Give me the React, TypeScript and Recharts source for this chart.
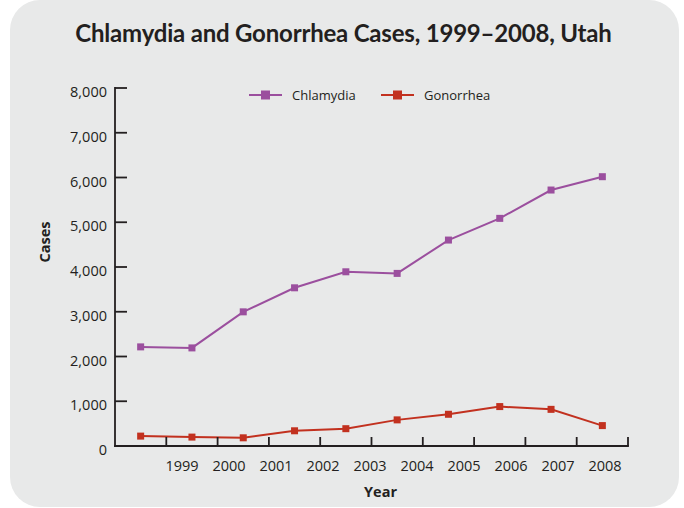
import React from "react";
import {
  LineChart,
  Line,
  XAxis,
  YAxis,
  Legend,
  Label,
} from "recharts";

const years = [1999, 2000, 2001, 2002, 2003, 2004, 2005, 2006, 2007, 2008];
const chlamydia = [2215, 2192, 2998, 3535, 3893, 3857, 4602, 5087, 5720, 6018];
const gonorrhea = [221, 199, 183, 340, 387, 584, 709, 881, 819, 456];
const yTicks = [0, 1000, 2000, 3000, 4000, 5000, 6000, 7000, 8000];
const boundaryTicks = [1999.5, 2000.5, 2001.5, 2002.5, 2003.5, 2004.5, 2005.5, 2006.5, 2007.5, 2008.5];

const data = years.map((year, i) => ({
  year,
  Chlamydia: chlamydia[i],
  Gonorrhea: gonorrhea[i],
}));

const FONT = "'Open Sans', 'Noto Sans', sans-serif";
const INK = "#231f20";
const PURPLE = "#9b4f9e";
const RED = "#c2311f";

const YTick = (props: any) => {
  const { x, y, payload } = props;
  return (
    <g>
      {payload.value > 0 && (
        <line x1={x + 8} x2={x + 20} y1={y} y2={y} stroke={INK} strokeWidth={1.8} />
      )}
      <text
        x={x}
        y={y + 4}
        dy="0.35em"
        textAnchor="end"
        fill={INK}
        fontSize={14.5}
        fontFamily={FONT}
      >
        {payload.value.toLocaleString("en-US")}
      </text>
    </g>
  );
};

const squareDot = (color: string, size: number) => (p: any) => (
  <rect
    key={`dot-${p.index}`}
    x={p.cx - size / 2}
    y={p.cy - size / 2}
    width={size}
    height={size}
    fill={color}
  />
);

const renderLegend = (props: any) => {
  const { payload } = props;
  return (
    <div style={{ display: "flex", alignItems: "center", fontFamily: FONT, fontSize: 13, color: INK }}>
      {payload.map((entry: any, i: number) => (
        <div
          key={entry.value}
          style={{ display: "flex", alignItems: "center", width: i === 0 ? 132 : "auto" }}
        >
          <svg width={33} height={18}>
            <line x1={0} x2={33} y1={9} y2={9} stroke={entry.color} strokeWidth={2} />
            <rect x={12} y={4.5} width={9} height={9} fill={entry.color} />
          </svg>
          <span style={{ marginLeft: 10, whiteSpace: "nowrap" }}>{entry.value}</span>
        </div>
      ))}
    </div>
  );
};

export default function App() {
  return (
    <div style={{ position: "fixed", left: 0, top: 0, width: 684, height: 508, background: "#fff" }}>
      <div
        style={{
          position: "absolute",
          left: 10,
          top: 0,
          width: 669,
          height: 507,
          borderRadius: 30,
          background: "#e8e9e9",
        }}
      />
      <div
        style={{
          position: "absolute",
          left: 0,
          top: 18,
          width: 687,
          textAlign: "center",
          fontFamily: "Lato, 'Open Sans', sans-serif",
          fontWeight: 700,
          fontSize: 24,
          letterSpacing: -0.2,
          lineHeight: "30px",
          color: INK,
          whiteSpace: "nowrap",
        }}
      >
        Chlamydia and Gonorrhea Cases, 1999–2008, Utah
      </div>
      <div style={{ position: "absolute", left: 0, top: 0 }}>
        <LineChart
          width={684}
          height={508}
          data={data}
          margin={{ top: 88, right: 56, bottom: 9, left: 55 }}
        >
          <XAxis
            xAxisId="a-main"
            type="number"
            dataKey="year"
            domain={[1998.5, 2008.5]}
            ticks={boundaryTicks}
            allowDataOverflow
            height={1}
            tickSize={-9}
            tick={() => <g />}
            axisLine={{ stroke: INK, strokeWidth: 1.8, strokeLinecap: "square" }}
            tickLine={{ stroke: INK, strokeWidth: 1.8 }}
          />
          <XAxis
            xAxisId="b-labels"
            type="category"
            dataKey="year"
            padding={{ left: 67, right: 23 }}
            interval={0}
            height={52}
            axisLine={false}
            tickLine={false}
            tickSize={0}
            tickMargin={14}
            tick={{ fill: INK, fontSize: 14.5, fontFamily: FONT }}
          >
            <Label
              value="Year"
              position="insideBottom"
              offset={2}
              dx={9}
              fill={INK}
              fontSize={14.5}
              fontWeight={700}
              fontFamily={FONT}
            />
          </XAxis>
          <YAxis
            width={60}
            domain={[0, 8000]}
            ticks={yTicks}
            interval={0}
            tickSize={0}
            tickMargin={8}
            tickLine={false}
            tick={<YTick />}
            axisLine={{ stroke: INK, strokeWidth: 1.8, strokeLinecap: "square" }}
          >
            <Label
              value="Cases"
              angle={-90}
              position="center"
              dx={-40.5}
              dy={-25}
              fill={INK}
              fontSize={14.5}
              fontWeight={700}
              fontFamily={FONT}
            />
          </YAxis>
          <Legend
            layout="vertical"
            verticalAlign="middle"
            align="center"
            wrapperStyle={{ top: 86, left: 249, width: "auto" }}
            content={renderLegend}
          />
          <Line
            xAxisId="a-main"
            dataKey="Chlamydia"
            name="Chlamydia"
            stroke={PURPLE}
            strokeWidth={2}
            dot={squareDot(PURPLE, 7)}
            activeDot={false}
            isAnimationActive={false}
          />
          <Line
            xAxisId="a-main"
            dataKey="Gonorrhea"
            name="Gonorrhea"
            stroke={RED}
            strokeWidth={2}
            dot={squareDot(RED, 7)}
            activeDot={false}
            isAnimationActive={false}
          />
        </LineChart>
      </div>
    </div>
  );
}
